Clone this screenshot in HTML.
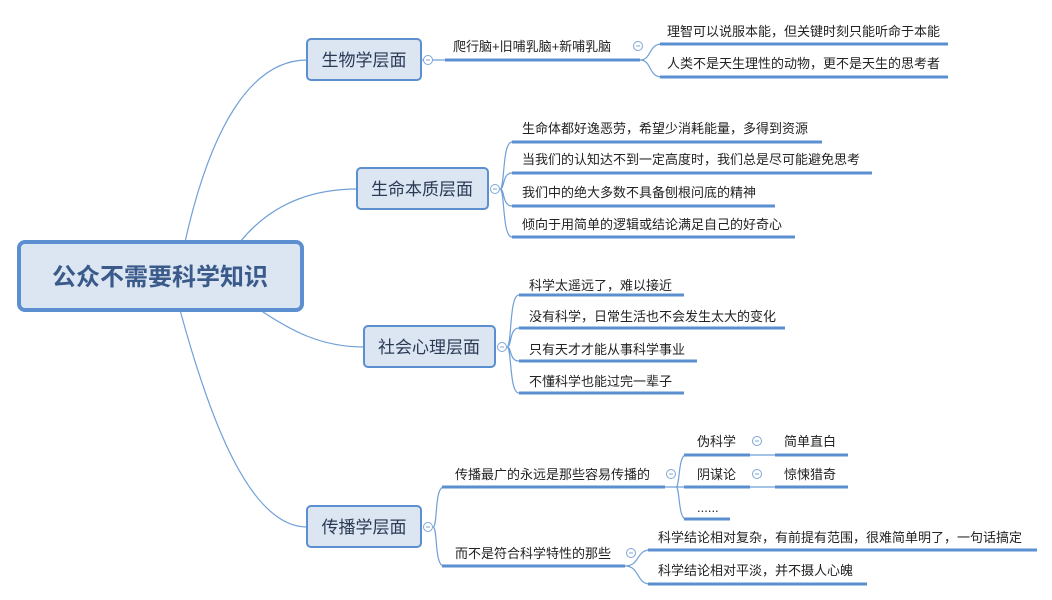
<!DOCTYPE html>
<html><head><meta charset="utf-8"><style>
body{margin:0;background:#fff;}
svg{display:block;font-family:"Liberation Sans","Noto Sans CJK SC",sans-serif;}
.t{font-size:13px;fill:#222;}
.b{font-size:17px;fill:#2a3a55;}
.ln{stroke:#5b8fd0;stroke-width:3;}
.c{fill:none;stroke:#6f9fd8;stroke-width:1.2;}
.o{fill:#fff;stroke:#7ea6d8;stroke-width:1;}
</style></head><body>
<svg width="1052" height="600" viewBox="0 0 1052 600">
<!-- root connectors -->
<path class="c" d="M185,242 C210,130 250,60 307,60"/>
<path class="c" d="M240,242 C270,205 310,189 357,189"/>
<path class="c" d="M260,310 C290,330 320,347 364,347"/>
<path class="c" d="M180,310 C210,420 250,527 307,527"/>
<!-- root -->
<rect x="19" y="242" width="283" height="68" rx="6" fill="#dce6f2" stroke="#5b8fd0" stroke-width="4"/>
<text x="160" y="285" text-anchor="middle" font-size="24" font-weight="bold" fill="#3a5a8a">公众不需要科学知识</text>
<!-- branch boxes -->
<rect x="307" y="39" width="114" height="41" rx="4" fill="#dce6f2" stroke="#5b8fd0" stroke-width="2"/>
<text class="b" x="364" y="66" text-anchor="middle">生物学层面</text>
<rect x="357" y="168" width="131" height="41" rx="4" fill="#dce6f2" stroke="#5b8fd0" stroke-width="2"/>
<text class="b" x="422" y="195" text-anchor="middle">生命本质层面</text>
<rect x="364" y="326" width="131" height="41" rx="4" fill="#dce6f2" stroke="#5b8fd0" stroke-width="2"/>
<text class="b" x="429" y="353" text-anchor="middle">社会心理层面</text>
<rect x="307" y="506" width="114" height="41" rx="4" fill="#dce6f2" stroke="#5b8fd0" stroke-width="2"/>
<text class="b" x="364" y="533" text-anchor="middle">传播学层面</text>

<!-- 生物学 -->
<line class="c" x1="421" y1="60" x2="445" y2="60"/>
<circle class="o" cx="428" cy="60" r="4.5"/><line x1="426" y1="60" x2="430" y2="60" stroke="#7ea6d8"/>
<line class="ln" x1="445" y1="60" x2="640" y2="60"/>
<text class="t" x="453" y="51">爬行脑+旧哺乳脑+新哺乳脑</text>
<path class="c" d="M640,60 C652,60 648,44 662,44 M640,60 C652,60 648,77 662,77"/>
<circle class="o" cx="638" cy="46" r="4.5"/><line x1="636" y1="46" x2="640" y2="46" stroke="#7ea6d8"/>
<line class="ln" x1="660" y1="44" x2="948" y2="44"/>
<text class="t" x="667" y="36">理智可以说服本能，但关键时刻只能听命于本能</text>
<line class="ln" x1="660" y1="77" x2="948" y2="77"/>
<text class="t" x="667" y="68">人类不是天生理性的动物，更不是天生的思考者</text>

<!-- 生命本质 -->
<circle class="o" cx="495" cy="189" r="4.5"/><line x1="493" y1="189" x2="497" y2="189" stroke="#7ea6d8"/>
<path class="c" d="M500,189 C505,189 502,142 512,142 M500,189 C505,189 502,173 512,173 M500,189 C505,189 502,206 512,206 M500,189 C505,189 502,237 512,237"/>
<line class="ln" x1="512" y1="142" x2="822" y2="142"/><text class="t" x="522" y="133">生命体都好逸恶劳，希望少消耗能量，多得到资源</text>
<line class="ln" x1="512" y1="173" x2="872" y2="173"/><text class="t" x="522" y="164">当我们的认知达不到一定高度时，我们总是尽可能避免思考</text>
<line class="ln" x1="512" y1="206" x2="775" y2="206"/><text class="t" x="522" y="197">我们中的绝大多数不具备刨根问底的精神</text>
<line class="ln" x1="512" y1="237" x2="795" y2="237"/><text class="t" x="522" y="229">倾向于用简单的逻辑或结论满足自己的好奇心</text>

<!-- 社会心理 -->
<circle class="o" cx="502" cy="347" r="4.5"/><line x1="500" y1="347" x2="504" y2="347" stroke="#7ea6d8"/>
<path class="c" d="M507,347 C512,347 509,295 519,295 M507,347 C512,347 509,328 519,328 M507,347 C512,347 509,361 519,361 M507,347 C512,347 509,393 519,393"/>
<line class="ln" x1="519" y1="295" x2="684" y2="295"/><text class="t" x="529" y="290">科学太遥远了，难以接近</text>
<line class="ln" x1="519" y1="328" x2="785" y2="328"/><text class="t" x="529" y="321">没有科学，日常生活也不会发生太大的变化</text>
<line class="ln" x1="519" y1="361" x2="697" y2="361"/><text class="t" x="529" y="354">只有天才才能从事科学事业</text>
<line class="ln" x1="519" y1="393" x2="684" y2="393"/><text class="t" x="529" y="386">不懂科学也能过完一辈子</text>

<!-- 传播学 -->
<circle class="o" cx="428" cy="527" r="4.5"/><line x1="426" y1="527" x2="430" y2="527" stroke="#7ea6d8"/>
<path class="c" d="M433,527 C438,527 434,487 444,487 M433,527 C438,527 434,566 444,566"/>
<line class="ln" x1="442" y1="487" x2="665" y2="487"/><text class="t" x="455" y="479">传播最广的永远是那些容易传播的</text>
<circle class="o" cx="671" cy="474" r="4.5"/><line x1="669" y1="474" x2="673" y2="474" stroke="#7ea6d8"/>
<path class="c" d="M665,487 L684,487 M676,487 C680,487 678,455 686,455 M676,487 C680,487 678,519 686,519"/>
<line class="ln" x1="684" y1="455" x2="750" y2="455"/><text class="t" x="697" y="446">伪科学</text>
<circle class="o" cx="757" cy="441" r="4.5"/><line x1="755" y1="441" x2="759" y2="441" stroke="#7ea6d8"/>
<line class="c" x1="750" y1="455" x2="775" y2="455"/>
<line class="ln" x1="775" y1="455" x2="848" y2="455"/><text class="t" x="784" y="446">简单直白</text>
<line class="ln" x1="684" y1="487" x2="750" y2="487"/><text class="t" x="697" y="479">阴谋论</text>
<circle class="o" cx="757" cy="474" r="4.5"/><line x1="755" y1="474" x2="759" y2="474" stroke="#7ea6d8"/>
<line class="c" x1="750" y1="487" x2="775" y2="487"/>
<line class="ln" x1="775" y1="487" x2="848" y2="487"/><text class="t" x="784" y="479">惊悚猎奇</text>
<line class="ln" x1="684" y1="519" x2="730" y2="519"/><text class="t" x="697" y="512">......</text>

<line class="ln" x1="442" y1="566" x2="625" y2="566"/><text class="t" x="455" y="558">而不是符合科学特性的那些</text>
<circle class="o" cx="631" cy="553" r="4.5"/><line x1="629" y1="553" x2="633" y2="553" stroke="#7ea6d8"/>
<path class="c" d="M625,566 C640,566 636,550 650,550 M625,566 C640,566 636,584 650,584"/>
<line class="ln" x1="648" y1="550" x2="1037" y2="550"/><text class="t" x="658" y="542">科学结论相对复杂，有前提有范围，很难简单明了，一句话搞定</text>
<line class="ln" x1="648" y1="584" x2="867" y2="584"/><text class="t" x="658" y="575">科学结论相对平淡，并不摄人心魄</text>
</svg>
</body></html>
